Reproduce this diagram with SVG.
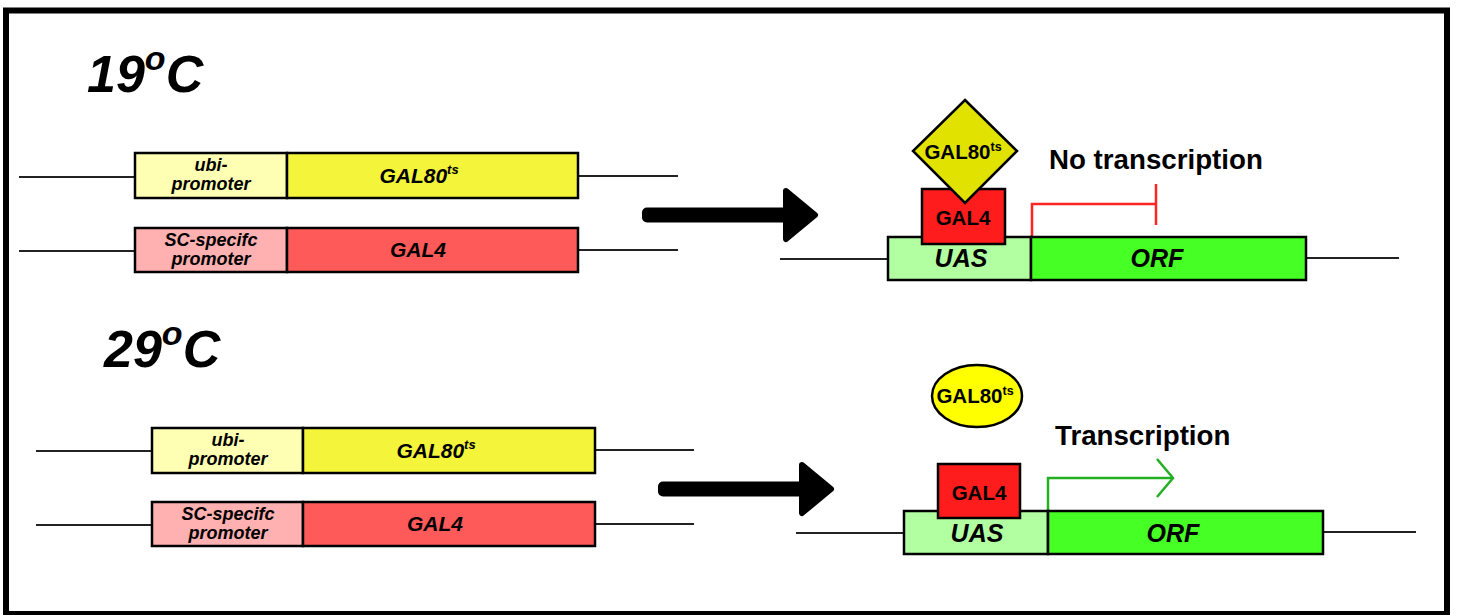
<svg xmlns="http://www.w3.org/2000/svg" width="1457" height="615" viewBox="0 0 1457 615">
<style>
text{font-family:"Liberation Sans",Arial,sans-serif;fill:#000}
.h{font-size:52px;font-weight:bold;font-style:italic}
.gl{font-size:18px;font-weight:bold;font-style:italic}
.gn{font-size:21px;font-weight:bold;font-style:italic}
.big{font-size:25px;font-weight:bold;font-style:italic}
.pr{font-size:20.5px;font-weight:bold}
.lab{font-size:27.7px;font-weight:bold}
.box{stroke:#000;stroke-width:2.5}
.dna{stroke:#222;stroke-width:2;fill:none}
.ubi{fill:#ffffb4}
.g80{fill:#f4f43a}
.scp{fill:#ffb0b0}
.g4{fill:#ff5a5a}
.uas{fill:#b2ffa2}
.orf{fill:#46ff24}
.p4{fill:#ff1c1c}
</style>
<defs>
<g id="bigarrow">
<rect x="0" y="-7.5" width="148" height="15" rx="5" fill="#000"/>
<polygon points="144,-24 173,0 144,24" fill="#000" stroke="#000" stroke-width="6" stroke-linejoin="round"/>
</g>
</defs>
<rect id="frame" x="6" y="10.5" width="1441" height="603.5" fill="#fff" stroke="#000" stroke-width="6"/>

<g id="heading-19">
<text class="h" x="87" y="92">19<tspan font-size="34" dy="-22">o</tspan><tspan dy="22">C</tspan></text>
</g>
<g id="heading-29">
<text class="h" x="104" y="367">29<tspan font-size="34" dy="-22">o</tspan><tspan dy="22">C</tspan></text>
</g>

<g id="connectors">
<line class="dna" x1="19" y1="177" x2="135" y2="177"/>
<line class="dna" x1="578" y1="176" x2="678" y2="176"/>
<line class="dna" x1="19" y1="251" x2="135" y2="251"/>
<line class="dna" x1="578" y1="250" x2="678" y2="250"/>
<line class="dna" x1="780" y1="259" x2="888" y2="259"/>
<line class="dna" x1="1306" y1="258" x2="1399" y2="258"/>
<line class="dna" x1="36" y1="451" x2="152" y2="451"/>
<line class="dna" x1="595" y1="450" x2="694" y2="450"/>
<line class="dna" x1="36" y1="525" x2="152" y2="525"/>
<line class="dna" x1="595" y1="524" x2="694" y2="524"/>
<line class="dna" x1="796" y1="533" x2="904" y2="533"/>
<line class="dna" x1="1323" y1="532" x2="1416" y2="532"/>
<use href="#bigarrow" x="642" y="215"/>
<use href="#bigarrow" x="658" y="489"/>
<polyline points="1032,237 1032,204 1156,204" fill="none" stroke="#ff2424" stroke-width="2.5"/>
<line x1="1156" y1="184" x2="1156" y2="225" stroke="#ff2424" stroke-width="2.5"/>
<polyline points="1048,511 1048,478 1172,478" fill="none" stroke="#22b022" stroke-width="2.5"/>
<polyline points="1157,459 1173,478 1157,497" fill="none" stroke="#22b022" stroke-width="2.5"/>
</g>

<g id="ubi-promoter-1">
<rect class="box ubi" x="135" y="153" width="152" height="45"/>
<text class="gl" x="211" y="171" text-anchor="middle">ubi-</text>
<text class="gl" x="211" y="190" text-anchor="middle">promoter</text>
</g>
<g id="gal80-gene-1">
<rect class="box g80" x="287" y="153" width="291" height="45"/>
<text class="gn" x="419" y="183" text-anchor="middle">GAL80<tspan font-size="13" dy="-9">ts</tspan></text>
</g>
<g id="sc-promoter-1">
<rect class="box scp" x="135" y="228" width="152" height="44"/>
<text class="gl" x="211" y="246" text-anchor="middle">SC-specifc</text>
<text class="gl" x="211" y="265" text-anchor="middle">promoter</text>
</g>
<g id="gal4-gene-1">
<rect class="box g4" x="287" y="228" width="291" height="44"/>
<text class="gn" x="418" y="257" text-anchor="middle">GAL4</text>
</g>

<g id="uas-1">
<rect class="box uas" x="888" y="237" width="143" height="43"/>
<text class="big" x="961" y="267" text-anchor="middle">UAS</text>
</g>
<g id="orf-1">
<rect class="box orf" x="1031" y="237" width="275" height="43"/>
<text class="big" x="1157" y="267" text-anchor="middle">ORF</text>
</g>
<g id="gal4-protein-1">
<rect class="box p4" x="922" y="189" width="83" height="55"/>
<text class="pr" x="963" y="225" text-anchor="middle">GAL4</text>
</g>
<g id="gal80-protein-1">
<polygon class="box" points="965,100 1017,151 965,203 913,151" fill="#e2e200"/>
<text class="pr" x="963" y="159" text-anchor="middle">GAL80<tspan font-size="12.5" dy="-8">ts</tspan></text>
</g>
<g id="label-no-transcription">
<text class="lab" x="1049" y="169">No transcription</text>
</g>

<g id="ubi-promoter-2">
<rect class="box ubi" x="152" y="428" width="151" height="45"/>
<text class="gl" x="228" y="446" text-anchor="middle">ubi-</text>
<text class="gl" x="228" y="465" text-anchor="middle">promoter</text>
</g>
<g id="gal80-gene-2">
<rect class="box g80" x="303" y="428" width="292" height="45"/>
<text class="gn" x="436" y="458" text-anchor="middle">GAL80<tspan font-size="13" dy="-9">ts</tspan></text>
</g>
<g id="sc-promoter-2">
<rect class="box scp" x="152" y="502" width="151" height="44"/>
<text class="gl" x="228" y="520" text-anchor="middle">SC-specifc</text>
<text class="gl" x="228" y="539" text-anchor="middle">promoter</text>
</g>
<g id="gal4-gene-2">
<rect class="box g4" x="303" y="502" width="292" height="44"/>
<text class="gn" x="435" y="531" text-anchor="middle">GAL4</text>
</g>

<g id="uas-2">
<rect class="box uas" x="904" y="511" width="144" height="43"/>
<text class="big" x="977" y="542" text-anchor="middle">UAS</text>
</g>
<g id="orf-2">
<rect class="box orf" x="1048" y="511" width="275" height="43"/>
<text class="big" x="1173" y="542" text-anchor="middle">ORF</text>
</g>
<g id="gal4-protein-2">
<rect class="box p4" x="938" y="464" width="82" height="54"/>
<text class="pr" x="979" y="500" text-anchor="middle">GAL4</text>
</g>
<g id="gal80-protein-2">
<ellipse class="box" cx="977" cy="396" rx="45" ry="31" fill="#ffff00"/>
<text class="pr" x="975" y="403" text-anchor="middle">GAL80<tspan font-size="12.5" dy="-8">ts</tspan></text>
</g>
<g id="label-transcription">
<text class="lab" x="1055" y="445">Transcription</text>
</g>
</svg>
